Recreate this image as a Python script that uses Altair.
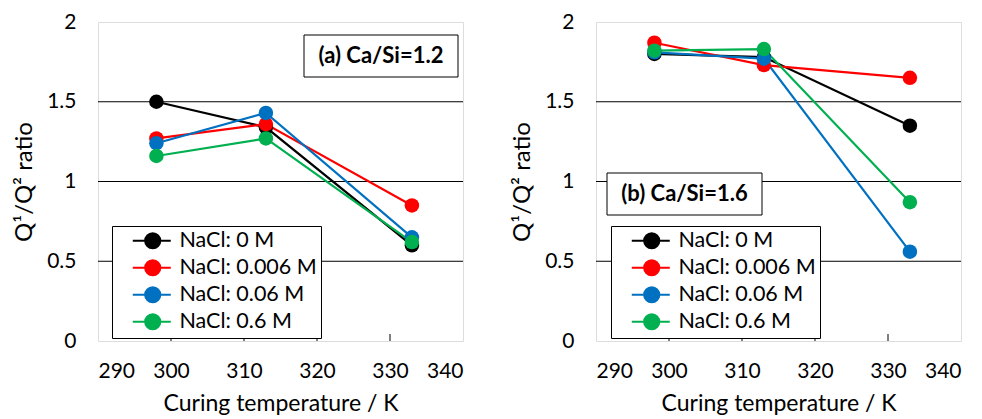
import altair as alt
import pandas as pd

temps = [298, 313, 333]
series = ["NaCl: 0 M", "NaCl: 0.006 M", "NaCl: 0.06 M", "NaCl: 0.6 M"]
colors = ["#000000", "#FF0000", "#0070C0", "#00B050"]

# panel (a) Ca/Si = 1.2
a_0 = [1.50, 1.34, 0.60]
a_0006 = [1.27, 1.36, 0.85]
a_006 = [1.24, 1.43, 0.65]
a_06 = [1.16, 1.27, 0.62]

# panel (b) Ca/Si = 1.6
b_0 = [1.80, 1.78, 1.35]
b_0006 = [1.87, 1.73, 1.65]
b_006 = [1.81, 1.77, 0.56]
b_06 = [1.82, 1.83, 0.87]

x_ticks = [290, 300, 310, 320, 330, 340]
inner_ticks = [300, 310, 320, 330]
y_ticks = [0, 0.5, 1, 1.5, 2]
grid_vals = [0.5, 1, 1.5]

FONT = "Lato"
W, H = 365, 319
# legend symbol: line with a dot, shifted right inside the nominal symbol box
LEGEND_PATH = ("M0.86,0 L6.29,0 M2.64,0 A1.07,1.07 0 1,0 4.78,0 "
               "A1.07,1.07 0 1,0 2.64,0 Z")


def make_df(vals):
    rows = []
    for name, v in zip(series, vals):
        for t, r in zip(temps, v):
            rows.append({"T": t, "ratio": r, "series": name})
    return pd.DataFrame(rows)


def panel(df, label, box, legend_xy):
    xs = alt.X("T:Q", scale=alt.Scale(domain=[290, 340], nice=False),
               axis=alt.Axis(values=x_ticks, grid=False, ticks=False, domain=False,
                             labelFontSize=21, labelFont=FONT, labelColor="black",
                             labelPadding=19, title="Curing temperature / K",
                             titleFontSize=23, titleFont=FONT, titleFontWeight="normal",
                             titleColor="black", titlePadding=11))
    ys = alt.Y("ratio:Q", scale=alt.Scale(domain=[0, 2], nice=False),
               axis=alt.Axis(values=y_ticks, grid=False, ticks=False, domain=False,
                             format="~g",
                             labelFontSize=21, labelFont=FONT, labelColor="black",
                             labelPadding=22, title="Q¹/Q² ratio",
                             titleFontSize=24, titleFont=FONT, titleFontWeight="normal",
                             titleColor="black", titlePadding=10))
    sc = alt.Scale(domain=series, range=colors)
    leg = alt.Legend(title=None, orient="none", legendX=legend_xy[0], legendY=legend_xy[1],
                     symbolType=LEGEND_PATH, symbolSize=196, symbolStrokeWidth=2.2,
                     labelFontSize=21.5, labelFont=FONT, labelColor="black",
                     labelExpr="datum.label + ' '",
                     labelOffset=42, rowPadding=2, padding=4,
                     strokeColor="black", fillColor="white", symbolOpacity=1)

    grid = alt.Chart(pd.DataFrame({"g": grid_vals})).mark_rule(
        color="black", strokeWidth=1).encode(y=alt.Y("g:Q", scale=alt.Scale(domain=[0, 2])))
    ticks = alt.Chart(pd.DataFrame({"t": inner_ticks})).mark_rule(
        color="black", strokeWidth=1).encode(
        x=alt.X("t:Q", scale=alt.Scale(domain=[290, 340])),
        y=alt.value(H), y2=alt.value(H - 7))

    lines = alt.Chart(df).mark_line(strokeWidth=2.2).encode(
        x=xs, y=ys, stroke=alt.Stroke("series:N", scale=sc, sort=series, legend=leg),
        detail="series:N", order=alt.Order("T:Q"))
    pts = alt.Chart(df).mark_circle(size=210, opacity=1, strokeWidth=0).encode(
        x=xs, y=ys,
        fill=alt.Fill("series:N", scale=sc, sort=series, legend=leg),
        stroke=alt.Stroke("series:N", scale=sc, sort=series, legend=leg))

    lab = pd.DataFrame({"label": [label]})
    rect = alt.Chart(lab).mark_rect(fill="white", stroke="black", strokeWidth=1).encode(
        x=alt.value(box[0]), x2=alt.value(box[1]), y=alt.value(box[2]), y2=alt.value(box[3]))
    txt = alt.Chart(lab).mark_text(fontSize=22, fontWeight="bold", font=FONT,
                                   color="black").encode(
        x=alt.value((box[0] + box[1]) / 2), y=alt.value((box[2] + box[3]) / 2),
        text="label:N")

    return alt.layer(grid, ticks, lines, pts, rect, txt).properties(width=W, height=H)


left = panel(make_df([a_0, a_0006, a_006, a_06]), "(a) Ca/Si=1.2",
             (206, 360, 13, 55), (14, 204))
right = panel(make_df([b_0, b_0006, b_006, b_06]), "(b) Ca/Si=1.6",
              (11, 166, 151, 193), (15, 204))

chart = alt.hconcat(left, right, spacing=46).resolve_legend(
    fill="independent", stroke="independent").properties(
    padding={"left": 4, "top": 2, "right": 0, "bottom": 0}).configure_view(
    stroke="black", strokeWidth=1).configure(background="white")

chart.save("out.html", embed_options={"renderer": "svg", "actions": False})
